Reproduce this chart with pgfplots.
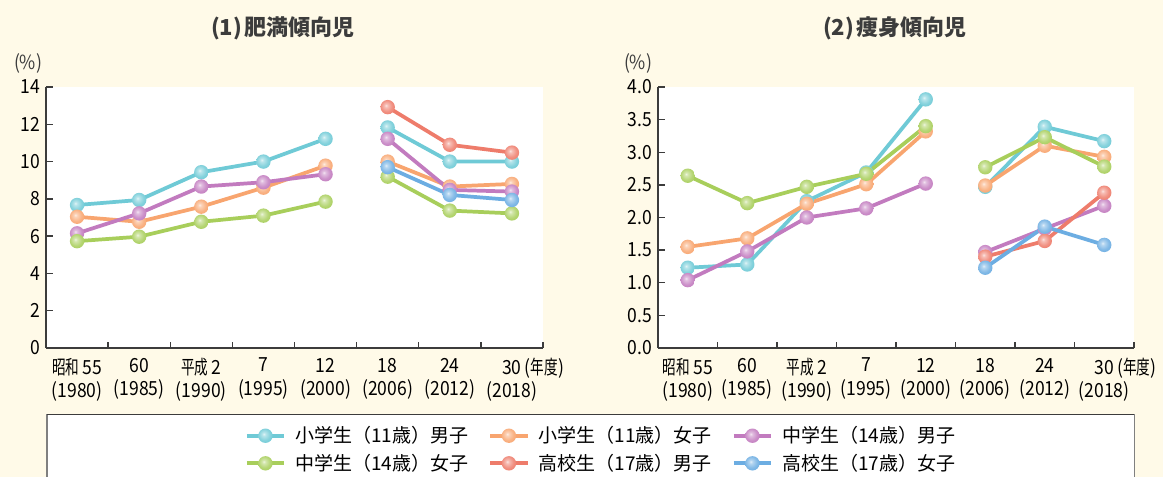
\documentclass[border=0pt]{standalone}
\usepackage{fontspec}
\setmainfont{Noto Sans CJK JP}
\newfontfamily\numfont[FakeStretch=0.9]{Noto Sans CJK JP}
\newfontfamily\jpcond[FakeStretch=0.7]{Noto Sans CJK JP}
\usepackage{pgfplots}
\pgfplotsset{compat=1.18}

\definecolor{bg}{HTML}{FFFAE8}
\definecolor{axcol}{HTML}{3C3C3C}
\definecolor{c1}{HTML}{6FCAD6}
\definecolor{c2}{HTML}{F8A56F}
\definecolor{c3}{HTML}{C27BBF}
\definecolor{c4}{HTML}{A8CE5B}
\definecolor{c5}{HTML}{EE7C6B}
\definecolor{c6}{HTML}{6CADE2}

% glossy marker: light centre (upper left) fading to the series colour
\newcommand\kball[1]{%
  \pgfdeclareradialshading{kb#1}{\pgfqpoint{-6bp}{6bp}}{%
    color(0bp)=(#1!20!white); color(6bp)=(#1!50!white); color(20bp)=(#1!85!white);
    color(32bp)=(#1); color(60bp)=(#1!88!black)}%
  \pgfdeclareplotmark{kb#1}{\pgfpathcircle{\pgfpointorigin}{\pgfplotmarksize}%
    \pgfshadepath{kb#1}{0}\pgfusepath{discard}}}
\kball{c1}\kball{c2}\kball{c3}\kball{c4}\kball{c5}\kball{c6}

\newcommand{\tk}{\fontsize{14.6pt}{17.5pt}\selectfont\numfont}

\pgfplotsset{
  kchart/.style={
    scale only axis, height=195.75pt,
    axis lines=left, axis line style={-, draw=axcol, line width=1pt},
    axis background/.style={fill=white},
    xmin=-0.5, xmax=7.5, enlargelimits=false,
    xtick={0,...,7}, major x tick style={draw=none},
    minor xtick={-0.5,0.5,...,7.5},
    minor x tick style={draw=axcol, line width=1pt},
    minor tick length=4.5pt,
    major y tick style={draw=axcol, line width=1pt},
    major tick length=5.25pt,
    tick align=inside,
    /pgf/number format/assume math mode=true,
    yticklabel style={font=\tk, xshift=-1pt},
    xticklabel style={font=\tk, align=center, yshift=-4pt},
    xticklabels={{{\jpcond 昭和}\,55\\(1980)}, {60\\(1985)}, {{\jpcond 平成}\,2\\(1990)},
      {7\\(1995)}, {12\\(2000)}, {18\\(2006)}, {24\\(2012)},
      {30\rlap{\,({\jpcond 年度})}\\(2018)}},
    unbounded coords=jump,
    every axis plot/.append style={line width=2.8pt, mark size=5.4pt},
  },
  s1/.style={color=c1, mark=kbc1},
  s2/.style={color=c2, mark=kbc2},
  s3/.style={color=c3, mark=kbc3},
  s4/.style={color=c4, mark=kbc4},
  s5/.style={color=c5, mark=kbc5},
  s6/.style={color=c6, mark=kbc6},
}

\begin{document}
\begin{tikzpicture}
\fill[bg] (0,0) rectangle (872.25pt,357.75pt);
% legend frame
\fill[white] (35.25pt,-10pt) rectangle (850.7pt,47pt);
\draw[gray, line width=1pt] (35.25pt,-10pt) -- (35.25pt,47pt);
\draw[gray, line width=1pt] (850.7pt,-10pt) -- (850.7pt,47pt);
\draw[axcol, line width=1pt] (35.25pt,47pt) -- (850.7pt,47pt);

% titles
\node[font=\fontsize{16.5pt}{18pt}\selectfont\bfseries, text=axcol] at (212.25pt,336.75pt) {(1)\hspace{2pt}肥満傾向児};
\node[font=\fontsize{16.5pt}{18pt}\selectfont\bfseries, text=axcol] at (671.25pt,336.75pt) {(2)\hspace{2pt}痩身傾向児};
\node[font=\tk, text=axcol] at (21pt,310pt) {(\%)};
\node[font=\tk, text=axcol] at (478.5pt,310pt) {(\%)};

% (1) obesity
\begin{axis}[kchart,
  at={(34.5pt,96.75pt)}, anchor=south west,
  width=372.75pt,
  ymin=0, ymax=14, ytick={0,2,...,14},
  legend columns=3,
  legend style={at={(1.1177,-0.389)}, anchor=center, draw=none, fill=none,
    font=\fontsize{14.25pt}{16pt}\selectfont,
    /tikz/every odd column/.append style={column sep=5pt},
    /tikz/every even column/.append style={column sep=13pt},
    row sep=3pt},
  legend image code/.code={\draw[mark repeat=2,mark phase=2,#1] plot coordinates {(0pt,0pt) (14pt,0pt) (28pt,0pt)};},
]
\addplot[s1] coordinates {(0,7.67) (1,7.94) (2,9.43) (3,10.0) (4,11.22) (4.5,nan) (5,11.83) (6,10.0) (7,10.0)};
\addlegendentry{小学生（11歳）男子}
\addplot[s2] coordinates {(0,7.04) (1,6.77) (2,7.58) (3,8.60) (4,9.78) (4.5,nan) (5,10.0) (6,8.66) (7,8.80)};
\addlegendentry{小学生（11歳）女子}
\addplot[s3] coordinates {(0,6.15) (1,7.22) (2,8.66) (3,8.89) (4,9.32) (4.5,nan) (5,11.22) (6,8.48) (7,8.39)};
\addlegendentry{中学生（14歳）男子}
\addplot[s4] coordinates {(0,5.73) (1,5.97) (2,6.77) (3,7.10) (4,7.85) (4.5,nan) (5,9.19) (6,7.37) (7,7.22)};
\addlegendentry{中学生（14歳）女子}
\addplot[s5] coordinates {(5,12.92) (6,10.90) (7,10.48)};
\addlegendentry{高校生（17歳）男子}
\addplot[s6] coordinates {(5,9.70) (6,8.21) (7,7.94)};
\addlegendentry{高校生（17歳）女子}
\end{axis}

% (2) thinness
\begin{axis}[kchart,
  at={(493.5pt,96.75pt)}, anchor=south west,
  width=357pt,
  ymin=0, ymax=4, ytick={0,0.5,...,4},
  yticklabel style={/pgf/number format/.cd, fixed, fixed zerofill, precision=1},
]
\addplot[s1] coordinates {(0,1.23) (1,1.28) (2,2.25) (3,2.69) (4,3.81) (4.5,nan) (5,2.47) (6,3.39) (7,3.17)};
\addplot[s2] coordinates {(0,1.55) (1,1.68) (2,2.21) (3,2.51) (4,3.32) (4.5,nan) (5,2.49) (6,3.10) (7,2.93)};
\addplot[s3] coordinates {(0,1.04) (1,1.48) (2,2.00) (3,2.14) (4,2.52) (4.5,nan) (5,1.47) (6,1.83) (7,2.18)};
\addplot[s4] coordinates {(0,2.64) (1,2.22) (2,2.47) (3,2.67) (4,3.40) (4.5,nan) (5,2.77) (6,3.23) (7,2.78)};
\addplot[s5] coordinates {(5,1.40) (6,1.64) (7,2.38)};
\addplot[s6] coordinates {(5,1.23) (6,1.86) (7,1.58)};
\end{axis}

\pgfresetboundingbox
\path[use as bounding box] (0,0) rectangle (872.25pt,357.75pt);
\end{tikzpicture}
\end{document}
